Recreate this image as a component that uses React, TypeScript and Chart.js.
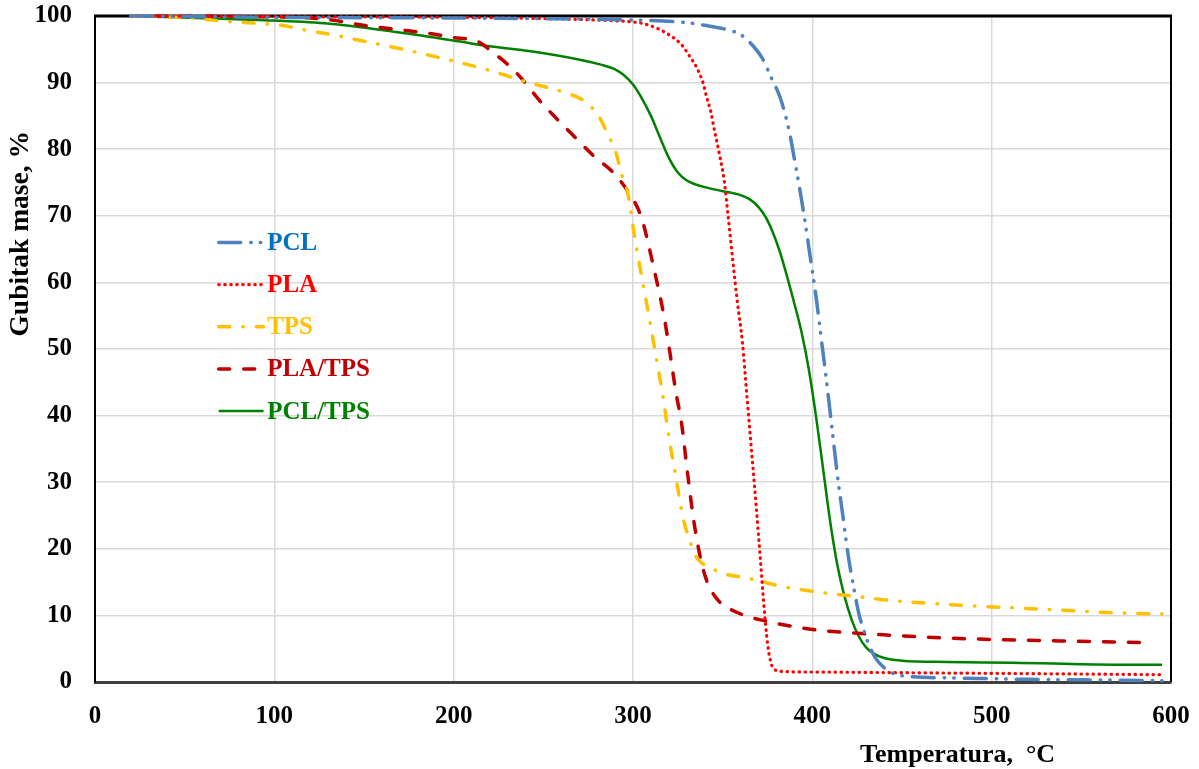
import React, { useEffect, useRef } from "react";
import { Chart, registerables } from "chart.js";

Chart.register(...registerables);

// ---- Data (temperature °C, mass %) ----
const PCL_T = [20, 100, 200, 250, 300, 330, 340, 350, 360, 367, 372, 377, 382, 386, 388, 390, 393, 396, 399, 402, 405, 408, 411, 414, 417, 420, 423, 426, 429, 432, 435, 439, 445, 455, 480, 520, 560, 595];
const PCL_M = [100, 99.8, 99.7, 99.6, 99.4, 99, 98.6, 98.1, 97.2, 95.5, 93.7, 90.8, 87.8, 84, 81.5, 78.5, 74, 69, 63.5, 58, 51.5, 45, 38, 31, 25, 19, 14.3, 10.2, 7.5, 5.3, 3.7, 2.4, 1.3, 0.8, 0.6, 0.4, 0.3, 0.2];

const PLA_T = [20, 100, 200, 280, 300, 305, 313, 320, 327, 331, 336, 339, 341, 343.5, 345, 348, 351, 353, 355.6, 358, 361, 363.5, 366, 368.5, 371, 373, 375, 377, 379, 382, 400, 450, 500, 550, 595];
const PLA_M = [100, 99.9, 99.8, 99.4, 99.1, 98.9, 98.2, 97.2, 95.7, 94.2, 92, 90, 87.9, 85.5, 83.4, 79.5, 75, 70, 63.4, 57.5, 51, 43, 35, 27, 18.5, 11.5, 5.8, 2.8, 1.9, 1.6, 1.5, 1.4, 1.3, 1.2, 1.1];

const TPS_T = [20, 54, 72, 91, 104, 117, 132, 152, 175, 199, 219, 242, 262, 273, 281, 286, 290.5, 293.3, 297, 298.9, 300.5, 304.4, 308.9, 312.8, 316.7, 320, 323.9, 327.8, 333.4, 336, 343.5, 353, 362, 384, 406, 429, 438, 484, 531, 568, 595];
const TPS_M = [100, 99.7, 99.2, 98.9, 98.6, 97.9, 97.2, 96.1, 94.8, 93.3, 91.9, 90, 88.5, 87.2, 84.9, 82.2, 79.5, 76.5, 73.5, 70.5, 67.5, 61.5, 54.9, 48.9, 42.9, 36.8, 30.8, 24.8, 19.9, 18.5, 17.1, 16.1, 15.7, 14.3, 13.4, 12.7, 12.4, 11.5, 10.9, 10.4, 10.2];

const PLATPS_T = [20, 110, 132, 145, 158, 171, 186, 199, 214, 222, 229, 237.6, 247.6, 257, 268, 278, 289, 297, 304.5, 311.8, 317.3, 320, 324, 327, 330.4, 334, 337.8, 341, 347, 358.5, 375, 397, 420, 445, 475, 531, 590];
const PLATPS_M = [100, 99.8, 99.4, 98.8, 98.3, 97.9, 97.4, 96.8, 96.1, 94.5, 93, 90.7, 87.4, 84.7, 81.7, 79, 76.5, 73.7, 69.9, 61.9, 54.9, 50.5, 43.4, 39, 31.4, 24, 18.4, 15.3, 12.4, 10.4, 9.1, 8.0, 7.4, 7.0, 6.6, 6.2, 5.9];

const PCLTPS_T = [20, 91, 128, 165, 202.5, 219, 243, 271, 282, 290, 295, 300, 305, 310, 315, 320, 325, 330, 335, 340, 350, 360, 365, 370, 374, 378, 382, 386, 390, 394, 398, 402, 406, 410, 414, 418, 422, 426, 430, 434, 440, 450, 475, 512, 568, 595];
const PCLTPS_M = [100, 99.4, 98.9, 97.7, 96.2, 95.5, 94.7, 93.4, 92.7, 92, 91.1, 89.7, 87.6, 85, 81.8, 78.7, 76.5, 75.3, 74.7, 74.3, 73.7, 73.1, 72.5, 71.3, 69.8, 67.5, 64.5, 60.8, 56.8, 52.5, 47, 40, 32, 24, 17.5, 12.8, 9.3, 6.8, 5.2, 4.3, 3.6, 3.2, 3.0, 2.9, 2.6, 2.6];

const X_TICKS_MIN = 0;
const X_TICKS_MAX = 600;
const Y_TICKS_MIN = 0;
const Y_TICKS_MAX = 100;

const X_TITLE = "Temperatura,  °C";
const Y_TITLE = "Gubitak mase, %";

const FONT = '"Liberation Serif", "Times New Roman", serif';

type Style = { label: string; color: string; text: string; width: number; dash: number[]; cap: CanvasLineCap };

const STYLES: Style[] = [
  { label: "PCL", color: "#4F81BD", text: "#0070C0", width: 3.5, dash: [22, 10, 0.5, 9, 0.5, 10], cap: "round" },
  { label: "PLA", color: "#FF0000", text: "#FF0000", width: 3.2, dash: [0.5, 5.5], cap: "round" },
  { label: "TPS", color: "#FFC000", text: "#FFC000", width: 3.5, dash: [11, 13, 0.5, 13], cap: "round" },
  { label: "PLA/TPS", color: "#C00000", text: "#C00000", width: 3.5, dash: [11, 14], cap: "round" },
  { label: "PCL/TPS", color: "#008000", text: "#008000", width: 2.5, dash: [], cap: "butt" },
];

const SERIES_T = [PCL_T, PLA_T, TPS_T, PLATPS_T, PCLTPS_T];
const SERIES_M = [PCL_M, PLA_M, TPS_M, PLATPS_M, PCLTPS_M];

// legend placement in data units
const LEGEND_LINE_X0 = 69;
const LEGEND_LINE_X1 = 94;
const LEGEND_TEXT_X = 96;
const LEGEND_TOP_Y = 66;
const LEGEND_STEP_Y = 6.33;

const framePlugin = {
  id: "frame",
  beforeDatasetsDraw(chart: any) {
    const { ctx, chartArea: a } = chart;
    ctx.save();
    ctx.strokeStyle = "#000";
    ctx.lineWidth = 3;
    ctx.beginPath();
    ctx.moveTo(a.left - 1, a.top);
    ctx.lineTo(a.right + 1, a.top);
    ctx.stroke();
    ctx.lineWidth = 2;
    ctx.beginPath();
    ctx.moveTo(a.right, a.top);
    ctx.lineTo(a.right, a.bottom);
    ctx.stroke();
    ctx.restore();
  },
};

const legendPlugin = {
  id: "customLegend",
  afterDraw(chart: any) {
    const { ctx } = chart;
    const x = chart.scales.x;
    const y = chart.scales.y;
    ctx.save();
    STYLES.forEach((s, i) => {
      const yy = y.getPixelForValue(LEGEND_TOP_Y - i * LEGEND_STEP_Y);
      ctx.strokeStyle = s.color;
      ctx.lineWidth = s.width;
      ctx.lineCap = s.cap;
      ctx.setLineDash(s.dash);
      ctx.beginPath();
      ctx.moveTo(x.getPixelForValue(LEGEND_LINE_X0), yy);
      ctx.lineTo(x.getPixelForValue(LEGEND_LINE_X1), yy);
      ctx.stroke();
      ctx.setLineDash([]);
      ctx.fillStyle = s.text;
      ctx.font = `bold 25px ${FONT}`;
      ctx.textBaseline = "middle";
      ctx.textAlign = "left";
      ctx.fillText(s.label, x.getPixelForValue(LEGEND_TEXT_X), yy + 1);
    });
    // axis titles
    ctx.fillStyle = "#000";
    ctx.font = `bold 26px ${FONT}`;
    ctx.textAlign = "center";
    ctx.textBaseline = "middle";
    ctx.fillText(X_TITLE, x.getPixelForValue(481), chart.height - 14);
    ctx.font = `bold 27.5px ${FONT}`;
    ctx.translate(21, y.getPixelForValue(67.3));
    ctx.rotate(-Math.PI / 2);
    ctx.fillText(Y_TITLE, 0, 0);
    ctx.restore();
  },
};

export default function App() {
  const ref = useRef<HTMLCanvasElement>(null);
  useEffect(() => {
    if (!ref.current) return;
    const datasets = STYLES.map((s, i) => ({
      label: s.label,
      data: SERIES_T[i].map((t, j) => ({ x: t, y: SERIES_M[i][j] })),
      borderColor: s.color,
      backgroundColor: s.color,
      borderWidth: s.width,
      borderDash: s.dash,
      borderCapStyle: s.cap,
      pointRadius: 0,
      fill: false,
      cubicInterpolationMode: "monotone" as const,
      clip: 6,
    }));
    const chart = new Chart(ref.current, {
      type: "line",
      data: { datasets },
      plugins: [framePlugin, legendPlugin],
      options: {
        animation: false,
        responsive: false,
        devicePixelRatio: 1,
        layout: { padding: { top: 16, right: 28, bottom: 0, left: 0 } },
        plugins: { legend: { display: false }, tooltip: { enabled: false } },
        scales: {
          x: {
            type: "linear",
            min: X_TICKS_MIN,
            max: X_TICKS_MAX,
            ticks: { stepSize: 100, color: "#000", font: { family: FONT, size: 25, weight: "bold" }, padding: 20, maxRotation: 0 },
            grid: { color: "#d9d9d9", lineWidth: 1.5, drawTicks: false },
            border: { color: "#404040", width: 3 },
            afterFit: (s: any) => { s.height = 87; s.paddingLeft = 0; s.paddingRight = 0; },
          },
          y: {
            type: "linear",
            min: Y_TICKS_MIN,
            max: Y_TICKS_MAX,
            ticks: { stepSize: 10, color: "#000", font: { family: FONT, size: 25, weight: "bold" }, padding: 23 },
            grid: { color: "#d9d9d9", lineWidth: 1.5, drawTicks: false },
            border: { color: "#000", width: 2 },
            afterFit: (s: any) => { s.width = 95; s.paddingTop = 0; s.paddingBottom = 0; },
          },
        },
      },
    });
    return () => chart.destroy();
  }, []);
  return (
    <div style={{ position: "fixed", left: 0, top: 0, width: 1199, height: 769, background: "#fff" }}>
      <canvas ref={ref} width={1199} height={769} />
    </div>
  );
}
